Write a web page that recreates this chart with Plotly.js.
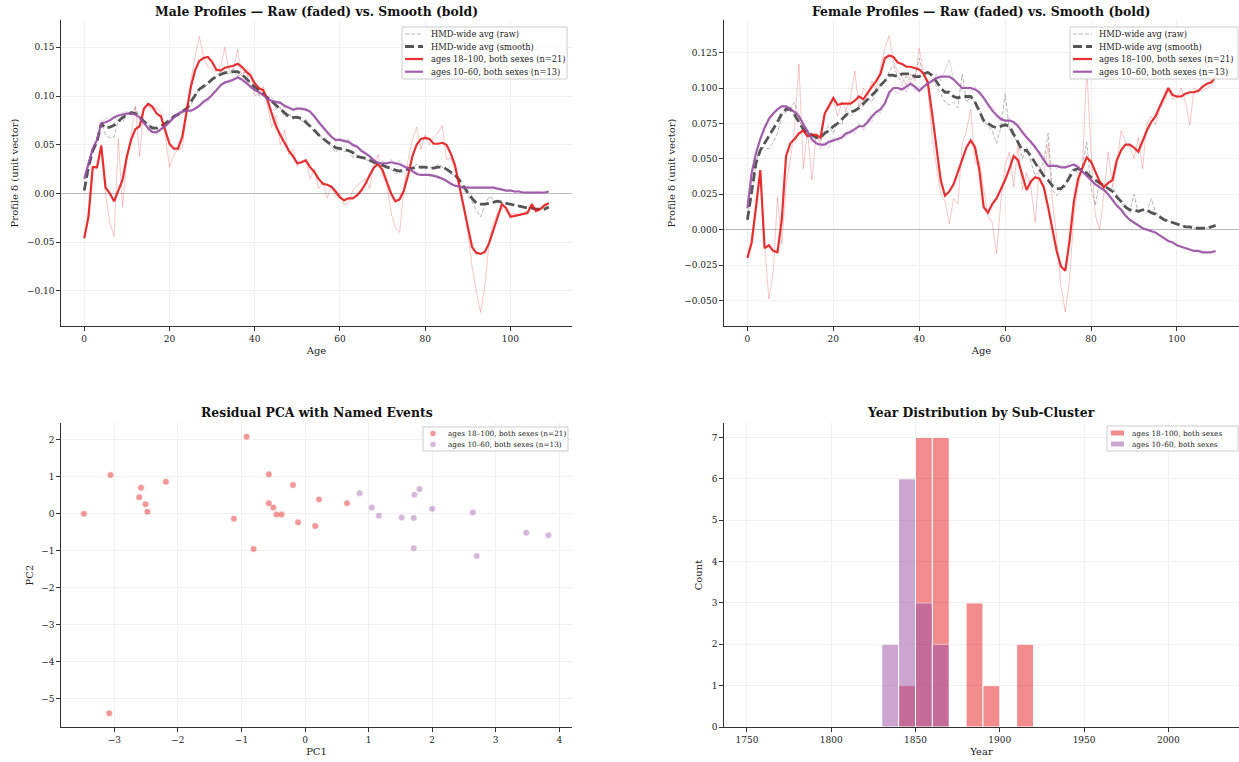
<!DOCTYPE html>
<html>
<head>
<meta charset="utf-8">
<script src="https://cdn.plot.ly/plotly-3.0.1.min.js"></script>
<style>html,body{margin:0;padding:0;background:#fff;}#chart{width:1239px;height:762px;}</style>
</head>
<body>
<div id="chart"></div>
<script>
// ---------------- DATA ----------------
const ages = Array.from({length:110}, (_, i) => i);  // ages 0..109

// Male panel
const maleHmdRaw = [0.003,0.028,0.045,0.055,0.072,0.060,0.057,0.058,0.075,0.073,0.082,0.082,0.088,0.078,0.075,0.070,0.070,0.065,0.063,0.070,0.075,0.080,0.083,0.086,0.085,0.090,0.100,0.108,0.108,0.112,0.118,0.120,0.125,0.122,0.123,0.128,0.120,0.123,0.125,0.112,0.110,0.100,0.105,0.096,0.097,0.087,0.088,0.078,0.082,0.076,0.080,0.074,0.076,0.070,0.062,0.062,0.055,0.052,0.048,0.042,0.048,0.043,0.045,0.037,0.040,0.036,0.035,0.033,0.030,0.033,0.028,0.027,0.025,0.020,0.022,0.022,0.026,0.025,0.030,0.026,0.025,0.027,0.026,0.030,0.027,0.024,0.020,0.018,0.012,0.004,-0.002,-0.008,-0.018,-0.024,-0.012,-0.003,-0.006,-0.010,-0.009,-0.011,-0.012,-0.011,-0.013,-0.014,-0.014,-0.015,-0.016,-0.016,-0.015,-0.014];
const maleHmdSmooth = [0.003,0.027,0.044,0.053,0.072,0.067,0.068,0.070,0.074,0.078,0.080,0.083,0.082,0.079,0.074,0.070,0.067,0.067,0.069,0.072,0.075,0.079,0.081,0.084,0.087,0.094,0.101,0.107,0.110,0.113,0.117,0.120,0.122,0.124,0.124,0.125,0.125,0.122,0.118,0.113,0.109,0.106,0.102,0.098,0.094,0.090,0.087,0.083,0.079,0.078,0.078,0.077,0.073,0.069,0.065,0.060,0.056,0.053,0.050,0.047,0.046,0.045,0.044,0.042,0.038,0.037,0.036,0.034,0.032,0.030,0.029,0.027,0.026,0.024,0.023,0.024,0.025,0.026,0.027,0.027,0.027,0.026,0.026,0.027,0.027,0.025,0.022,0.019,0.014,0.007,0.001,-0.005,-0.010,-0.011,-0.011,-0.010,-0.009,-0.008,-0.009,-0.010,-0.011,-0.012,-0.013,-0.014,-0.015,-0.015,-0.016,-0.016,-0.016,-0.014];
const maleRedRaw = [-0.046,-0.020,0.027,0.025,0.050,0.000,-0.030,-0.044,0.056,-0.014,0.035,0.060,0.090,0.038,0.088,0.090,0.085,0.088,0.083,0.060,0.027,0.040,0.045,0.047,0.080,0.115,0.140,0.161,0.140,0.130,0.128,0.125,0.130,0.150,0.125,0.128,0.148,0.120,0.128,0.125,0.100,0.103,0.110,0.090,0.068,0.080,0.050,0.065,0.040,0.045,0.028,0.033,0.035,0.015,0.025,0.005,0.012,-0.005,0.008,-0.003,0.000,-0.012,-0.010,0.003,0.008,0.012,0.015,0.005,0.030,0.040,0.018,0.010,-0.020,-0.035,-0.040,0.005,0.035,0.055,0.068,0.045,0.060,0.050,0.058,0.062,0.070,0.035,0.036,0.025,0.010,-0.010,-0.040,-0.075,-0.100,-0.122,-0.095,-0.050,-0.030,-0.020,-0.015,-0.018,-0.022,-0.020,-0.023,-0.020,-0.018,-0.014,-0.016,-0.017,-0.013,-0.011];
const maleRedSmooth = [-0.046,-0.024,0.027,0.027,0.049,0.006,0.000,-0.008,0.003,0.014,0.038,0.055,0.066,0.069,0.087,0.092,0.089,0.082,0.079,0.065,0.051,0.046,0.046,0.058,0.085,0.109,0.126,0.136,0.139,0.140,0.135,0.127,0.126,0.129,0.130,0.131,0.133,0.130,0.125,0.121,0.113,0.108,0.106,0.096,0.082,0.069,0.060,0.052,0.044,0.038,0.031,0.032,0.034,0.027,0.022,0.015,0.010,0.009,0.007,0.002,-0.004,-0.007,-0.005,-0.005,-0.002,0.003,0.010,0.019,0.027,0.030,0.024,0.012,0.000,-0.008,-0.006,0.003,0.019,0.038,0.050,0.056,0.057,0.056,0.051,0.051,0.052,0.050,0.041,0.029,0.007,-0.014,-0.034,-0.055,-0.061,-0.062,-0.060,-0.051,-0.038,-0.024,-0.011,-0.015,-0.024,-0.023,-0.022,-0.021,-0.020,-0.011,-0.018,-0.016,-0.012,-0.010];
const malePurpleRaw = [0.015,0.033,0.045,0.056,0.072,0.078,0.074,0.080,0.079,0.083,0.084,0.080,0.084,0.076,0.073,0.065,0.064,0.060,0.067,0.067,0.074,0.076,0.083,0.082,0.088,0.083,0.089,0.088,0.096,0.094,0.103,0.104,0.113,0.112,0.117,0.115,0.121,0.115,0.115,0.107,0.108,0.102,0.103,0.095,0.099,0.092,0.095,0.088,0.090,0.084,0.089,0.085,0.088,0.082,0.081,0.071,0.070,0.061,0.060,0.053,0.057,0.052,0.056,0.048,0.050,0.042,0.043,0.036,0.036,0.029,0.034,0.029,0.035,0.029,0.034,0.026,0.028,0.021,0.022,0.018,0.020,0.017,0.020,0.015,0.017,0.012,0.011,0.007,0.008,0.005,0.007,0.005,0.007,0.005,0.007,0.005,0.007,0.004,0.005,0.002,0.004,0.001,0.003,0.000,0.002,0.000,0.002,0.001,0.001,0.002];
const malePurpleSmooth = [0.015,0.032,0.046,0.055,0.072,0.073,0.075,0.078,0.080,0.081,0.082,0.082,0.081,0.078,0.072,0.067,0.063,0.063,0.066,0.069,0.073,0.078,0.081,0.084,0.085,0.085,0.087,0.090,0.094,0.097,0.101,0.106,0.111,0.114,0.115,0.117,0.119,0.117,0.113,0.109,0.106,0.104,0.101,0.097,0.095,0.094,0.093,0.090,0.088,0.086,0.087,0.087,0.086,0.084,0.079,0.073,0.068,0.063,0.058,0.055,0.055,0.054,0.053,0.050,0.048,0.044,0.041,0.038,0.034,0.031,0.031,0.031,0.032,0.031,0.030,0.028,0.026,0.023,0.020,0.019,0.019,0.019,0.018,0.017,0.015,0.013,0.010,0.008,0.007,0.006,0.006,0.006,0.006,0.006,0.006,0.006,0.006,0.005,0.004,0.003,0.003,0.002,0.002,0.001,0.001,0.001,0.001,0.001,0.001,0.002];

// Female panel
const femHmdRaw = [0.008,0.025,0.047,0.058,0.058,0.057,0.062,0.068,0.080,0.083,0.086,0.090,0.078,0.070,0.068,0.066,0.065,0.063,0.070,0.073,0.068,0.076,0.074,0.085,0.080,0.083,0.088,0.087,0.093,0.090,0.098,0.102,0.104,0.112,0.116,0.108,0.104,0.108,0.106,0.108,0.121,0.108,0.112,0.106,0.101,0.096,0.090,0.088,0.090,0.086,0.110,0.090,0.094,0.089,0.086,0.078,0.073,0.070,0.061,0.072,0.096,0.070,0.065,0.062,0.050,0.058,0.048,0.038,0.042,0.048,0.068,0.028,0.024,0.028,0.030,0.040,0.043,0.040,0.045,0.062,0.030,0.017,0.035,0.028,0.027,0.030,0.025,0.018,0.017,0.012,0.025,0.012,0.014,0.012,0.022,0.012,0.010,0.008,0.006,0.005,0.004,0.003,0.002,0.002,0.001,0.001,0.001,0.001,0.002,0.003];
const femHmdSmooth = [0.007,0.028,0.047,0.056,0.061,0.065,0.071,0.076,0.082,0.085,0.085,0.081,0.076,0.071,0.068,0.067,0.065,0.065,0.068,0.070,0.073,0.075,0.078,0.081,0.083,0.084,0.086,0.089,0.092,0.095,0.098,0.102,0.105,0.109,0.109,0.108,0.110,0.110,0.110,0.108,0.108,0.110,0.111,0.109,0.104,0.100,0.097,0.097,0.094,0.093,0.094,0.094,0.094,0.090,0.083,0.077,0.075,0.073,0.072,0.073,0.074,0.073,0.067,0.061,0.056,0.056,0.052,0.047,0.042,0.038,0.035,0.031,0.029,0.029,0.032,0.037,0.042,0.043,0.042,0.040,0.037,0.035,0.033,0.031,0.029,0.027,0.023,0.020,0.016,0.014,0.014,0.013,0.014,0.014,0.012,0.011,0.009,0.007,0.006,0.005,0.004,0.003,0.002,0.002,0.001,0.001,0.001,0.001,0.002,0.003];
const femRedRaw = [-0.020,-0.005,0.015,0.040,-0.010,-0.049,-0.030,0.023,-0.010,0.030,0.050,0.072,0.117,0.043,0.070,0.035,0.068,0.060,0.082,0.085,0.092,0.080,0.090,0.085,0.093,0.112,0.085,0.100,0.095,0.105,0.098,0.115,0.128,0.137,0.118,0.112,0.108,0.102,0.110,0.105,0.128,0.112,0.100,0.065,0.045,0.025,0.020,0.004,0.022,0.018,0.060,0.070,0.085,0.047,0.048,0.030,0.010,0.005,-0.017,0.020,0.045,0.055,0.030,0.060,0.028,0.040,0.030,0.005,0.045,0.038,0.060,0.020,-0.005,-0.040,-0.058,-0.035,0.010,0.030,0.045,0.115,0.055,0.010,0.000,0.025,0.055,0.030,0.046,0.070,0.062,0.058,0.050,0.065,0.043,0.075,0.080,0.074,0.085,0.090,0.098,0.092,0.093,0.100,0.090,0.074,0.100,0.098,0.098,0.100,0.102,0.106];
const femRedSmooth = [-0.020,-0.009,0.016,0.042,-0.013,-0.011,-0.015,-0.016,0.007,0.052,0.061,0.064,0.068,0.070,0.066,0.067,0.067,0.065,0.082,0.087,0.093,0.088,0.089,0.089,0.089,0.091,0.094,0.092,0.097,0.101,0.105,0.110,0.121,0.123,0.122,0.118,0.117,0.115,0.115,0.114,0.113,0.110,0.104,0.082,0.058,0.035,0.024,0.027,0.032,0.041,0.049,0.058,0.063,0.058,0.042,0.016,0.012,0.018,0.022,0.028,0.035,0.043,0.052,0.049,0.038,0.028,0.034,0.037,0.036,0.030,0.016,0.000,-0.015,-0.026,-0.029,-0.008,0.020,0.036,0.044,0.051,0.048,0.041,0.034,0.030,0.033,0.035,0.049,0.056,0.060,0.060,0.058,0.055,0.063,0.070,0.076,0.080,0.087,0.094,0.100,0.095,0.094,0.094,0.096,0.097,0.097,0.098,0.101,0.103,0.104,0.108];
const femPurpleRaw = [0.015,0.040,0.056,0.063,0.071,0.080,0.081,0.084,0.088,0.086,0.087,0.082,0.082,0.073,0.071,0.062,0.062,0.057,0.062,0.058,0.065,0.062,0.068,0.065,0.071,0.068,0.075,0.070,0.078,0.076,0.084,0.082,0.091,0.094,0.100,0.096,0.103,0.097,0.105,0.098,0.101,0.099,0.106,0.103,0.110,0.105,0.112,0.120,0.106,0.104,0.098,0.101,0.098,0.101,0.095,0.094,0.086,0.087,0.079,0.080,0.076,0.079,0.074,0.075,0.067,0.067,0.060,0.060,0.052,0.052,0.044,0.047,0.043,0.046,0.043,0.048,0.045,0.046,0.040,0.039,0.034,0.033,0.029,0.029,0.024,0.022,0.016,0.015,0.010,0.008,0.004,0.004,0.001,0.001,-0.001,-0.002,-0.004,-0.006,-0.008,-0.009,-0.011,-0.012,-0.013,-0.014,-0.015,-0.015,-0.016,-0.016,-0.016,-0.015];
const femPurpleSmooth = [0.015,0.040,0.054,0.064,0.072,0.078,0.082,0.085,0.087,0.087,0.085,0.083,0.080,0.075,0.070,0.064,0.061,0.060,0.060,0.062,0.063,0.064,0.065,0.068,0.069,0.071,0.073,0.073,0.076,0.080,0.083,0.085,0.089,0.097,0.100,0.100,0.099,0.101,0.103,0.101,0.098,0.101,0.103,0.105,0.107,0.108,0.108,0.108,0.106,0.103,0.100,0.100,0.100,0.099,0.097,0.093,0.088,0.084,0.081,0.078,0.077,0.077,0.076,0.073,0.069,0.065,0.062,0.058,0.054,0.049,0.045,0.045,0.045,0.044,0.044,0.045,0.046,0.044,0.041,0.038,0.035,0.032,0.030,0.028,0.025,0.021,0.017,0.014,0.010,0.007,0.005,0.003,0.001,0.000,-0.001,-0.002,-0.004,-0.006,-0.008,-0.009,-0.011,-0.012,-0.013,-0.014,-0.015,-0.015,-0.016,-0.016,-0.016,-0.015];

// Residual PCA
const pcaRedX = [-3.48,-3.06,-2.58,-2.61,-2.51,-2.48,-2.19,-0.92,-1.12,-0.57,-0.57,-0.50,-0.45,-0.37,-0.19,-0.11,-0.81,0.16,0.22,0.66,-3.08];
const pcaRedY = [0.00,1.05,0.71,0.45,0.26,0.06,0.87,2.09,-0.13,1.07,0.29,0.17,-0.02,-0.02,0.78,-0.23,-0.95,-0.33,0.39,0.29,-5.40];
const pcaPurpleX = [0.86,1.05,1.16,1.52,1.71,1.72,1.80,2.00,2.64,1.71,2.70,3.48,3.83];
const pcaPurpleY = [0.56,0.17,-0.05,-0.10,-0.11,0.52,0.67,0.14,0.04,-0.93,-1.14,-0.51,-0.58];

// Year histogram (bin start years, 10-year bins)
const histRedBins = [1840,1850,1860,1880,1890,1910];
const histRedCounts = [1,7,7,3,1,2];
const histPurpleBins = [1830,1840,1850,1860];
const histPurpleCounts = [2,6,3,2];

const labelHmdRaw = 'HMD-wide avg (raw)';
const labelHmdSmooth = 'HMD-wide avg (smooth)';
const labelRed = 'ages 18–100, both sexes (n=21)';
const labelPurple = 'ages 10–60, both sexes (n=13)';
const labelRedShort = 'ages 18–100, both sexes';
const labelPurpleShort = 'ages 10–60, both sexes';

// ---------------- STYLE ----------------
const FONT = 'DejaVu Serif';
const RED = '#e41a1c', PURPLE = '#984ea3', DARK = '#555555';
const RED_LINE = 'rgba(228,26,28,0.9)', PURPLE_LINE = 'rgba(152,78,163,0.9)';
const styleHmdRaw = {color: 'rgba(150,150,150,0.7)', width: 1, dash: '4px,2px'};
const styleHmdSmooth = {color: DARK, width: 2.8, dash: '9px,4px'};
const styleRed = {color: RED_LINE, width: 2.2};
const stylePurple = {color: PURPLE_LINE, width: 2.2};

function profileTraces(xa, ya, hmdRaw, hmdSm, redRaw, redSm, purRaw, purSm) {
  return [
    {x: ages, y: redRaw, xaxis: xa, yaxis: ya, mode: 'lines', line: {color: 'rgba(228,26,28,0.25)', width: 1}},
    {x: ages, y: purRaw, xaxis: xa, yaxis: ya, mode: 'lines', line: {color: 'rgba(152,78,163,0.25)', width: 1}},
    {x: ages, y: hmdRaw, xaxis: xa, yaxis: ya, mode: 'lines', name: labelHmdRaw, line: styleHmdRaw},
    {x: ages, y: hmdSm, xaxis: xa, yaxis: ya, mode: 'lines', name: labelHmdSmooth, line: styleHmdSmooth},
    {x: ages, y: redSm, xaxis: xa, yaxis: ya, mode: 'lines', name: labelRed, line: styleRed},
    {x: ages, y: purSm, xaxis: xa, yaxis: ya, mode: 'lines', name: labelPurple, line: stylePurple}
  ];
}

const traces = [
  ...profileTraces('x', 'y', maleHmdRaw, maleHmdSmooth, maleRedRaw, maleRedSmooth, malePurpleRaw, malePurpleSmooth),
  ...profileTraces('x2', 'y2', femHmdRaw, femHmdSmooth, femRedRaw, femRedSmooth, femPurpleRaw, femPurpleSmooth),
  {x: pcaRedX, y: pcaRedY, xaxis: 'x3', yaxis: 'y3', mode: 'markers', name: labelRed,
   marker: {color: RED, size: 6.5, opacity: 0.45, line: {color: 'white', width: 0.5}}},
  {x: pcaPurpleX, y: pcaPurpleY, xaxis: 'x3', yaxis: 'y3', mode: 'markers', name: labelPurple,
   marker: {color: PURPLE, size: 6.5, opacity: 0.4, line: {color: 'white', width: 0.5}}},
  {type: 'bar', x: histRedBins, y: histRedCounts, xaxis: 'x4', yaxis: 'y4', name: labelRedShort,
   width: 10, offset: 0, opacity: 0.5, marker: {color: RED, line: {color: 'white', width: 1}}},
  {type: 'bar', x: histPurpleBins, y: histPurpleCounts, xaxis: 'x4', yaxis: 'y4', name: labelPurpleShort,
   width: 10, offset: 0, opacity: 0.5, marker: {color: PURPLE, line: {color: 'white', width: 1}}}
].map(t => Object.assign({showlegend: false, hoverinfo: 'skip'}, t));

const W = 1239, H = 762;
const px = v => v / W;
const py = v => 1 - v / H;

function ax(extra) {
  return Object.assign({
    showline: true, linecolor: '#333', linewidth: 1.2,
    ticks: 'outside', ticklen: 3.5, tickwidth: 1, tickcolor: '#333',
    showgrid: true, gridcolor: '#ececec', gridwidth: 0.8,
    zeroline: false, automargin: false,
    tickfont: {family: FONT, size: 9, color: '#222'}
  }, extra);
}
function axTitle(text, standoff) {
  return {text: text, font: {family: FONT, size: 10, color: '#222'}, standoff: standoff};
}

// ---- hand-built legends (matplotlib-like compact boxes) ----
const shapes = [];
const annotations = [];
function legend(box, rows, fontSize, symX0, symX1, textX) {
  shapes.push({type: 'rect', xref: 'paper', yref: 'paper', x0: px(box[0]), x1: px(box[1]), y0: py(box[3]), y1: py(box[2]),
               fillcolor: 'rgba(255,255,255,0.85)', line: {color: '#cccccc', width: 1}, layer: 'above'});
  rows.forEach(r => {
    if (r.kind === 'line') {
      shapes.push({type: 'line', xref: 'paper', yref: 'paper', x0: px(symX0), x1: px(symX1), y0: py(r.y), y1: py(r.y),
                   line: r.style, layer: 'above'});
    } else if (r.kind === 'dot') {
      const c = (symX0 + symX1) / 2, rad = 2.8;
      shapes.push({type: 'circle', xref: 'paper', yref: 'paper', x0: px(c - rad), x1: px(c + rad), y0: py(r.y + rad), y1: py(r.y - rad),
                   fillcolor: r.color, opacity: r.opacity, line: {width: 0}, layer: 'above'});
    } else if (r.kind === 'patch') {
      shapes.push({type: 'rect', xref: 'paper', yref: 'paper', x0: px(symX0), x1: px(symX1), y0: py(r.y + 2.5), y1: py(r.y - 2.5),
                   fillcolor: r.color, opacity: 0.5, line: {width: 0}, layer: 'above'});
    }
    annotations.push({text: r.text, xref: 'paper', yref: 'paper', x: px(textX), y: py(r.y), xanchor: 'left', yanchor: 'middle',
                      showarrow: false, font: {family: FONT, size: fontSize, color: '#222'}});
  });
}
const profileRows = [
  {y: 34, kind: 'line', style: styleHmdRaw, text: labelHmdRaw},
  {y: 46.5, kind: 'line', style: styleHmdSmooth, text: labelHmdSmooth},
  {y: 59, kind: 'line', style: styleRed, text: labelRed},
  {y: 71.7, kind: 'line', style: stylePurple, text: labelPurple}
];
legend([402, 567, 27, 79], profileRows, 8.3, 405, 423, 429);
legend([1070, 1238, 27, 79], profileRows, 8.3, 1073, 1092, 1097);
legend([423, 568, 427, 451], [
  {y: 433.5, kind: 'dot', color: RED, opacity: 0.45, text: labelRed},
  {y: 444.5, kind: 'dot', color: PURPLE, opacity: 0.4, text: labelPurple}
], 7.3, 428, 438, 446);
legend([1107, 1238, 426, 451], [
  {y: 433, kind: 'patch', color: RED, text: labelRedShort},
  {y: 444, kind: 'patch', color: PURPLE, text: labelPurpleShort}
], 7.3, 1111, 1124, 1130);

const topY = [py(326), py(20)];
const botY = [py(727), py(423)];
const leftX = [px(61), px(572)];
const rightX = [px(724), px(1239)];

[
  ['<b>Male Profiles — Raw (faded) vs. Smooth (bold)</b>', (leftX[0] + leftX[1]) / 2, py(12)],
  ['<b>Female Profiles — Raw (faded) vs. Smooth (bold)</b>', (rightX[0] + rightX[1]) / 2, py(12)],
  ['<b>Residual PCA with Named Events</b>', (leftX[0] + leftX[1]) / 2, py(412)],
  ['<b>Year Distribution by Sub-Cluster</b>', (rightX[0] + rightX[1]) / 2, py(412)]
].forEach(([t, x, y]) => annotations.push({text: t, xref: 'paper', yref: 'paper', x: x, y: y, xanchor: 'center', yanchor: 'middle',
  showarrow: false, font: {family: FONT, size: 12.4, color: '#111'}}));

const layout = {
  width: W, height: H,
  margin: {l: 0, r: 0, t: 0, b: 0},
  paper_bgcolor: 'white', plot_bgcolor: 'white',
  font: {family: FONT, color: '#222'},
  showlegend: false,
  barmode: 'overlay', bargap: 0,
  xaxis: ax({domain: leftX, anchor: 'y', range: [-5.45, 114.45], dtick: 20, title: axTitle('Age', 4)}),
  yaxis: ax({domain: topY, anchor: 'x', range: [-0.136, 0.178], dtick: 0.05, tickformat: '.2f',
             zeroline: true, zerolinecolor: '#b8b8b8', zerolinewidth: 1, title: axTitle('Profile δ (unit vector)', 6)}),
  xaxis2: ax({domain: rightX, anchor: 'y2', range: [-5.45, 114.45], dtick: 20, title: axTitle('Age', 4)}),
  yaxis2: ax({domain: topY, anchor: 'x2', range: [-0.068, 0.148], dtick: 0.025, tickformat: '.3f',
             zeroline: true, zerolinecolor: '#b8b8b8', zerolinewidth: 1, title: axTitle('Profile δ (unit vector)', 6)}),
  xaxis3: ax({domain: leftX, anchor: 'y3', range: [-3.84, 4.2], dtick: 1, title: axTitle('PC1', 4)}),
  yaxis3: ax({domain: botY, anchor: 'x3', range: [-5.77, 2.46], dtick: 1, title: axTitle('PC2', 5)}),
  xaxis4: ax({domain: rightX, anchor: 'y4', range: [1736.4, 2041.9], dtick: 50, title: axTitle('Year', 4)}),
  yaxis4: ax({domain: botY, anchor: 'x4', range: [0, 7.35], dtick: 1, title: axTitle('Count', 7)}),
  shapes: shapes,
  annotations: annotations
};

Plotly.newPlot('chart', traces, layout, {staticPlot: true, displayModeBar: false});
</script>
</body>
</html>
